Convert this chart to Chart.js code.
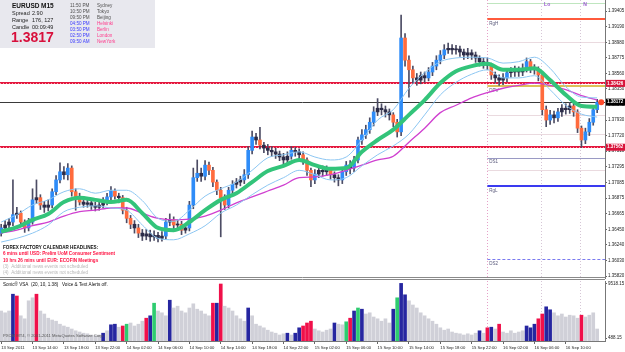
<!DOCTYPE html>
<html>
<head>
<meta charset="utf-8">
<script src="https://cdn.jsdelivr.net/npm/chart.js@4.4.0/dist/chart.umd.min.js"></script>
<style>
  html, body { margin: 0; padding: 0; background: #fff; }
  #wrap { position: relative; width: 625px; height: 352px; overflow: hidden; }
  #main { position: absolute; left: 0; top: 0; }
  #vol { position: absolute; left: 0; top: 280px; }
</style>
</head>
<body>
<div id="wrap">
  <canvas id="main" width="625" height="280"></canvas>
  <canvas id="vol" width="625" height="72"></canvas>
</div>
<script>
// EURUSD M15, taken at 30 min steps (13 Sep 10:00 -> 16 Sep 14:00)
var firstOpen = 1.3640;
var closes = [
  1.3647,1.3651,1.3655,1.3665,1.3667,1.3655,1.3647,1.3655,1.3685,1.3688,
  1.3678,1.3675,1.3678,1.3696,1.3712,1.3723,1.3719,1.3728,1.3696,1.3689,
  1.3682,1.3679,1.3681,1.3677,1.3675,1.3678,1.3682,1.3689,1.3697,1.3690,
  1.3688,1.3671,1.3660,1.3652,1.3647,1.3640,1.3636,1.3639,1.3635,1.3637,
  1.3633,1.3636,1.3655,1.3658,1.3651,1.3652,1.3644,1.3647,1.3678,1.3715,
  1.3721,1.3717,1.3732,1.3725,1.3709,1.3698,1.3688,1.3678,1.3698,1.3706,
  1.3709,1.3712,1.3719,1.3752,1.3770,1.3766,1.3759,1.3755,1.3752,1.3750,
  1.3747,1.3743,1.3739,1.3744,1.3752,1.3750,1.3746,1.3739,1.3725,1.3712,
  1.3720,1.3725,1.3723,1.3725,1.3719,1.3715,1.3712,1.3723,1.3732,1.3728,
  1.3739,1.3766,1.3773,1.3780,1.3790,1.3804,1.3809,1.3807,1.3804,1.3800,
  1.3790,1.3777,1.3904,1.3874,1.3861,1.3850,1.3847,1.3853,1.3850,1.3858,
  1.3866,1.3874,1.3881,1.3888,1.3890,1.3888,1.3889,1.3885,1.3881,1.3884,
  1.3881,1.3877,1.3872,1.3869,1.3867,1.3854,1.3850,1.3847,1.3850,1.3857,
  1.3858,1.3861,1.3858,1.3863,1.3872,1.3863,1.3861,1.3854,1.3807,1.3793,
  1.3800,1.3796,1.3804,1.3809,1.3807,1.3812,1.3804,1.3782,1.3766,1.3777,
  1.3790,1.3807,1.3817
];
var highs = [
  1.3652,1.3657,1.3660,1.3712,1.3675,1.3670,1.3658,1.3660,1.3700,1.3712,
  1.3692,1.3683,1.3685,1.3700,1.3718,1.3735,1.3730,1.3734,1.3731,1.3700,
  1.3694,1.3687,1.3686,1.3685,1.3682,1.3684,1.3688,1.3694,1.3703,1.3700,
  1.3694,1.3691,1.3675,1.3664,1.3657,1.3652,1.3645,1.3645,1.3644,1.3643,
  1.3641,1.3642,1.3660,1.3666,1.3662,1.3658,1.3656,1.3652,1.3683,1.3728,
  1.3739,1.3728,1.3738,1.3736,1.3729,1.3712,1.3702,1.3692,1.3702,1.3711,
  1.3714,1.3717,1.3726,1.3757,1.3778,1.3775,1.3783,1.3763,1.3760,1.3757,
  1.3755,1.3751,1.3748,1.3750,1.3757,1.3756,1.3754,1.3750,1.3742,1.3728,
  1.3726,1.3730,1.3731,1.3731,1.3729,1.3723,1.3719,1.3727,1.3737,1.3738,
  1.3744,1.3770,1.3780,1.3786,1.3796,1.3811,1.3822,1.3815,1.3812,1.3808,
  1.3803,1.3794,1.3935,1.3910,1.3880,1.3866,1.3856,1.3858,1.3858,1.3864,
  1.3871,1.3880,1.3887,1.3895,1.3897,1.3895,1.3894,1.3893,1.3889,1.3890,
  1.3888,1.3885,1.3880,1.3877,1.3877,1.3870,1.3858,1.3854,1.3856,1.3862,
  1.3864,1.3866,1.3865,1.3869,1.3877,1.3875,1.3868,1.3865,1.3857,1.3812,
  1.3806,1.3805,1.3809,1.3814,1.3815,1.3817,1.3816,1.3807,1.3785,1.3782,
  1.3795,1.3811,1.3821
];
var lows = [
  1.3636,1.3643,1.3646,1.3650,1.3660,1.3650,1.3641,1.3643,1.3652,1.3680,
  1.3672,1.3668,1.3670,1.3674,1.3692,1.3708,1.3713,1.3712,1.3690,1.3671,
  1.3678,1.3675,1.3675,1.3672,1.3670,1.3671,1.3674,1.3678,1.3685,1.3686,
  1.3681,1.3666,1.3654,1.3646,1.3640,1.3634,1.3630,1.3631,1.3629,1.3630,
  1.3628,1.3629,1.3632,1.3650,1.3646,1.3645,1.3638,1.3640,1.3643,1.3673,
  1.3710,1.3710,1.3712,1.3719,1.3703,1.3692,1.3635,1.3672,1.3674,1.3693,
  1.3701,1.3704,1.3707,1.3714,1.3747,1.3760,1.3754,1.3749,1.3746,1.3744,
  1.3741,1.3738,1.3733,1.3735,1.3740,1.3744,1.3740,1.3733,1.3718,1.3703,
  1.3707,1.3715,1.3717,1.3718,1.3713,1.3709,1.3704,1.3707,1.3718,1.3720,
  1.3723,1.3735,1.3760,1.3768,1.3775,1.3785,1.3799,1.3800,1.3797,1.3793,
  1.3784,1.3770,1.3772,1.3866,1.3824,1.3843,1.3840,1.3842,1.3844,1.3846,
  1.3853,1.3861,1.3869,1.3876,1.3883,1.3882,1.3882,1.3879,1.3875,1.3876,
  1.3875,1.3871,1.3866,1.3863,1.3861,1.3848,1.3843,1.3840,1.3841,1.3845,
  1.3851,1.3852,1.3852,1.3853,1.3858,1.3857,1.3855,1.3846,1.3800,1.3784,
  1.3787,1.3789,1.3791,1.3798,1.3801,1.3802,1.3798,1.3776,1.3756,1.3761,
  1.3772,1.3786,1.3803
];
var volumes = [
  5000,4700,5000,7800,7500,4200,3700,6700,7200,7800,
  5000,4500,3800,3500,3300,2800,2500,2300,2000,1700,
  1500,1300,1200,1000,900,1000,1300,1700,2700,2800,
  2300,2500,2800,3000,2500,2800,3300,3800,4200,6300,
  5000,4700,4200,6800,5500,5800,5000,4700,5500,6200,
  5300,5000,4500,4200,6300,6300,9500,5800,5500,5000,
  4200,3700,3300,5500,4200,2800,2500,2200,1800,1500,
  1300,1000,1200,1300,1000,1300,2200,2500,3000,3300,
  2000,1700,1500,1800,2000,3000,2800,2700,3200,3800,
  5000,5500,5300,4500,4700,4000,3700,3300,3700,3000,
  5300,7200,9600,7700,6700,6000,5500,4700,4200,3700,
  3300,2800,2200,1800,2000,1500,1300,1200,1000,1200,
  1000,1300,1700,1300,2200,2300,2000,2800,1500,1300,
  1700,1300,1500,1700,2500,2200,2800,3700,4500,5700,
  5200,4700,4200,4500,4000,4300,4200,3800,4300,4000,
  4300,4700,2000
];
// VSA bar class: 0 normal, 1 strength, 2 climax, 3 no supply
var vsaSignal = [
  0,0,0,1,2,0,0,0,0,2, 0,0,0,0,0,0,0,0,0,0, 0,0,0,0,0,0,1,0,1,1,
  0,2,3,0,0,0,0,2,1,3, 0,0,0,1,0,0,0,0,0,0, 0,0,0,0,2,1,2,0,0,0,
  0,0,0,1,0,0,0,0,0,0, 0,0,0,1,0,1,1,2,2,2, 0,0,0,0,0,1,0,0,3,2,
  1,3,1,0,0,0,0,0,0,0, 1,3,1,1,0,0,0,0,0,0, 0,0,0,0,0,0,0,0,0,0,
  0,0,1,0,2,1,0,2,0,0, 0,0,0,0,1,1,1,2,2,1, 1,0,0,0,0,0,0,0,2,0,
  0,0,0
];

// indicator lines, every 4th bar
var maIndex = [0,4,8,12,16,20,24,28,32,36,40,44,48,52,56,60,64,68,72,76,80,84,88,92,96,100,104,108,112,116,120,124,128,132,136,140,144,148,152];
var emaFast = [1.3642,1.3648,1.3658,1.3666,1.3682,1.3688,1.3685,1.3682,1.3685,1.3667,1.3647,1.3644,1.3655,1.3671,1.3685,1.3694,1.3709,1.3724,1.3731,1.3739,1.3732,1.3727,1.3728,1.3750,1.3766,1.3780,1.3800,1.3820,1.3843,1.3859,1.3866,1.3869,1.3861,1.3861,1.3863,1.3847,1.3827,1.3812,1.3811];
var bandUpper = [1.3655,1.3665,1.3678,1.3685,1.3696,1.3700,1.3694,1.3698,1.3698,1.3684,1.3660,1.3656,1.3671,1.3690,1.3700,1.3709,1.3725,1.3742,1.3746,1.3750,1.3743,1.3739,1.3743,1.3766,1.3793,1.3807,1.3836,1.3857,1.3872,1.3877,1.3878,1.3877,1.3870,1.3872,1.3878,1.3863,1.3838,1.3824,1.3823];
var bandLower = [1.3628,1.3633,1.3640,1.3651,1.3669,1.3675,1.3677,1.3674,1.3671,1.3651,1.3633,1.3631,1.3639,1.3650,1.3667,1.3678,1.3692,1.3705,1.3715,1.3725,1.3719,1.3712,1.3715,1.3731,1.3746,1.3758,1.3774,1.3800,1.3827,1.3844,1.3855,1.3861,1.3850,1.3850,1.3853,1.3834,1.3813,1.3801,1.3797];
var smaSlow = [1.3640,1.3644,1.3650,1.3655,1.3663,1.3669,1.3671,1.3674,1.3674,1.3667,1.3660,1.3658,1.3659,1.3663,1.3671,1.3681,1.3689,1.3697,1.3705,1.3715,1.3716,1.3719,1.3725,1.3732,1.3739,1.3744,1.3763,1.3782,1.3803,1.3813,1.3823,1.3830,1.3836,1.3840,1.3843,1.3840,1.3834,1.3826,1.3820];

var timeTicks = [0,8,16,24,32,40,48,56,64,72,80,88,96,104,112,120,128,136,144];
var timeLabels = ['13 Sep 2011','13 Sep 14:00','13 Sep 18:00','13 Sep 22:00','14 Sep 02:00','14 Sep 06:00','14 Sep 10:00','14 Sep 14:00','14 Sep 18:00','14 Sep 22:00','15 Sep 02:00','15 Sep 06:00','15 Sep 10:00','15 Sep 14:00','15 Sep 18:00','15 Sep 22:00','16 Sep 02:00','16 Sep 06:00','16 Sep 10:00'];
var priceTicks = [1.39405,1.39190,1.38980,1.38775,1.38560,1.38350,1.38140,1.37930,1.37720,1.37510,1.37295,1.37085,1.36875,1.36665,1.36450,1.36240,1.36030,1.35820];
var volTicks = [488.15, 9518.15];

// horizontal objects
var keyLevels = [1.38426, 1.38172, 1.37562];
var pivotNames = ['RgH', 'DPV', 'DS1', 'RgL', 'DS2'];
var pivotPrices = [1.3930, 1.3839, 1.3742, 1.3704, 1.3605];
var faintLevels = [1.3951, 1.3899, 1.3800, 1.3774, 1.3725];
var sessionIndex = [124, 137.7, 147.7];
var sessionNames = ['', 'Lo', 'N'];

var clockTimes = ['11:50 PM','10:50 PM','09:50 PM','04:50 PM','03:50 PM','02:50 PM','09:50 AM'];
var clockCities = ['Sydney','Tokyo','Beijing','Helsinki','Berlin','London','NewYork'];
var newsLines = [
  'FOREX FACTORY CALENDAR HEADLINES:',
  '6 mins until USD: Prelim UoM Consumer Sentiment',
  '10 hrs 26 mins until EUR: ECOFIN Meetings',
  '(3)  Additional news events not scheduled',
  '(4)  Additional news events not scheduled'
];

var FONT = '"Liberation Sans", Arial, sans-serif';
var xMin = -0.3, xMax = 154;

function candleColor(i) {
  var open = i === 0 ? firstOpen : closes[i - 1];
  var d = closes[i] - open;
  if (d >= 0.0006) return '#2e8cf8';
  if (d <= -0.0006) return '#ff6b3d';
  return '#2c2c48';
}

function pts(arr) {
  return maIndex.map(function (x, k) { return {x: x, y: arr[k]}; });
}

function hline(ctx, x1, x2, y, color, width, dash) {
  ctx.beginPath();
  ctx.setLineDash(dash || []);
  ctx.strokeStyle = color;
  ctx.lineWidth = width;
  var yy = (width % 2 === 1) ? Math.round(y) + 0.5 : Math.round(y);
  ctx.moveTo(x1, yy);
  ctx.lineTo(x2, yy);
  ctx.stroke();
}

function vline(ctx, x, y1, y2, color, dash) {
  ctx.beginPath();
  ctx.setLineDash(dash || []);
  ctx.strokeStyle = color;
  ctx.lineWidth = 1;
  var xx = Math.round(x) + 0.5;
  ctx.moveTo(xx, y1);
  ctx.lineTo(xx, y2);
  ctx.stroke();
}

function text(ctx, s, x, y, size, color, bold) {
  ctx.font = (bold ? 'bold ' : '') + size + 'px ' + FONT;
  ctx.fillStyle = color;
  ctx.textAlign = 'left';
  ctx.textBaseline = 'middle';
  ctx.fillText(s, x, y);
}

var pivotStyle = {
  RgH: {color: '#ff5a3c', width: 2},
  DPV: {color: '#dcc058', width: 2},
  DS1: {color: '#9a9ac4', width: 1},
  RgL: {color: '#3a3af0', width: 2},
  DS2: {color: '#7a7af0', width: 1, dash: [3, 2]}
};
var keyStyle = [
  {color: '#e3173e', box: '#d8143a'},
  {color: '#3a3a3a', box: '#000000'},
  {color: '#e3173e', box: '#d8143a'}
];

var mainDecor = {
  id: 'mainDecor',
  beforeDatasetsDraw: function (chart) {
    var ctx = chart.ctx, xs = chart.scales.x, ys = chart.scales.y, a = chart.chartArea;
    var x0 = xs.getPixelForValue(sessionIndex[0]);
    ctx.save();
    faintLevels.forEach(function (p, i) {
      hline(ctx, x0, a.right, ys.getPixelForValue(p), i === 0 ? '#bfe6bf' : '#eadadf', 1);
    });
    sessionIndex.forEach(function (v, i) {
      var x = xs.getPixelForValue(v);
      vline(ctx, x, a.top, a.bottom, i === 0 ? '#e6a0c8' : '#d6c6d6', [1, 2]);
      if (sessionNames[i]) text(ctx, sessionNames[i], x + 3, 5, 5, '#9a5ad0', true);
    });
    pivotNames.forEach(function (n, i) {
      var st = pivotStyle[n], y = ys.getPixelForValue(pivotPrices[i]);
      hline(ctx, x0, a.right, y, st.color, st.width, st.dash);
      text(ctx, n, x0 + 2, y + 4.5, 4.5, '#58587a', false);
    });
    keyLevels.forEach(function (p, i) {
      var y = ys.getPixelForValue(p);
      if (i === 1) {
        hline(ctx, a.left, a.right, y, keyStyle[i].color, 1);
      } else {
        hline(ctx, a.left, a.right, y, keyStyle[i].color, 2);
        hline(ctx, a.left, a.right, y, '#ff9aa8', 1, [1, 2]);
      }
    });
    ctx.restore();
  },
  afterDraw: function (chart) {
    var ctx = chart.ctx, xs = chart.scales.x, ys = chart.scales.y, a = chart.chartArea;
    ctx.save();
    ctx.setLineDash([]);
    // panel separator
    hline(ctx, 0, a.right, 277, '#8a8a8a', 1);
    hline(ctx, 0, a.right, 279, '#8a8a8a', 1);
    // price boxes on the axis
    keyLevels.forEach(function (p, i) {
      var y = ys.getPixelForValue(p);
      ctx.fillStyle = keyStyle[i].box;
      ctx.fillRect(a.right + 1, y - 3.5, 20, 7);
      text(ctx, p.toFixed(5), a.right + 2, y, 4.5, '#ffffff', true);
    });
    // current price marker
    ctx.beginPath();
    ctx.fillStyle = '#ff4a2a';
    ctx.arc(xs.getPixelForValue(closes.length - 1) + 4, ys.getPixelForValue(keyLevels[1]), 3, 0, Math.PI * 2);
    ctx.fill();
    // info panel
    ctx.fillStyle = '#e8e8ee';
    ctx.fillRect(0, 0, 155, 48);
    text(ctx, 'EURUSD', 12, 6, 6.5, '#111', true);
    text(ctx, 'M15', 41, 6, 6.5, '#111', true);
    text(ctx, 'Spread', 12, 13.5, 5.5, '#222');
    text(ctx, '2.90', 32, 13.5, 5.5, '#222');
    text(ctx, 'Range', 12, 20.5, 5.5, '#222');
    text(ctx, '176, 127', 32, 20.5, 5.5, '#222');
    text(ctx, 'Candle', 12, 27, 5.5, '#222');
    text(ctx, '00:09:49', 32, 27, 5.5, '#222');
    text(ctx, closes[closes.length - 1].toFixed(4), 11, 38.5, 14, '#d8103c', true);
    clockTimes.forEach(function (t, k) {
      var y = 6 + k * 6;
      text(ctx, t, 70, y, 4.6, k < 3 ? '#505050' : '#3a3aff');
      text(ctx, clockCities[k], 97, y, 4.6, k < 3 ? '#505050' : '#ff3c8c');
    });
    // news headlines
    newsLines.forEach(function (s, k) {
      var color = k === 0 ? '#111' : (k < 3 ? '#ff1040' : '#b8b8b8');
      text(ctx, s, 3, 248 + k * 6.2, 4.6, color, k < 3);
    });
    ctx.restore();
  }
};

var volDecor = {
  id: 'volDecor',
  beforeDatasetsDraw: function (chart) {
    var ctx = chart.ctx, xs = chart.scales.x, a = chart.chartArea;
    ctx.save();
    sessionIndex.forEach(function (v, i) {
      vline(ctx, xs.getPixelForValue(v), a.top, a.bottom, i === 0 ? '#e6a0c8' : '#d6c6d6', [1, 2]);
    });
    ctx.restore();
  },
  afterDraw: function (chart) {
    var ctx = chart.ctx;
    ctx.save();
    text(ctx, 'Sonic\u00ae VSA  (20, 10, 1.38)   Voice & Text Alerts off.', 3, 4.5, 4.6, '#111');
    text(ctx, 'PXCM MT4, \u00a9 2001-2011 MetaQuotes Software Corp.', 3, 55.5, 4.2, '#555');
    ctx.restore();
  }
};

var candleBodies = closes.map(function (c, i) {
  return {x: i, y: [i === 0 ? firstOpen : closes[i - 1], c]};
});
var candleWicks = closes.map(function (c, i) {
  return {x: i, y: [lows[i], highs[i]]};
});

new Chart(document.getElementById('main'), {
  type: 'bar',
  data: {
    datasets: [
      {type: 'line', data: pts(emaFast), borderColor: '#33c47a', borderWidth: 4, pointRadius: 0, cubicInterpolationMode: 'monotone', order: 0},
      {type: 'line', data: pts(bandUpper), borderColor: '#8cc6f2', borderWidth: 1, pointRadius: 0, cubicInterpolationMode: 'monotone', order: 0},
      {type: 'line', data: pts(bandLower), borderColor: '#8cc6f2', borderWidth: 1, pointRadius: 0, cubicInterpolationMode: 'monotone', order: 0},
      {type: 'line', data: pts(smaSlow), borderColor: '#d040d0', borderWidth: 1.3, pointRadius: 0, cubicInterpolationMode: 'monotone', order: 0},
      {data: candleBodies, backgroundColor: function (c) { return candleColor(c.dataIndex); }, barThickness: 3, minBarLength: 1, grouped: false, order: 1},
      {data: candleWicks, backgroundColor: '#4c4c64', barThickness: 1, grouped: false, order: 2}
    ]
  },
  options: {
    responsive: false,
    animation: false,
    events: [],
    layout: {padding: {top: 0, left: 0, right: 0, bottom: 2}},
    plugins: {legend: {display: false}, tooltip: {enabled: false}},
    scales: {
      x: {type: 'linear', min: xMin, max: xMax, offset: false, display: false, grid: {offset: false}},
      y: {
        position: 'right', min: 1.35793, max: 1.39554, beginAtZero: false,
        afterBuildTicks: function (s) { s.ticks = priceTicks.map(function (v) { return {value: v}; }); },
        afterFit: function (s) { s.width = 20; s.paddingTop = 0; s.paddingBottom = 0; },
        ticks: {autoSkip: false, padding: 1, color: '#222', font: {family: FONT, size: 4.5},
                callback: function (v) { return Number(v).toFixed(5); }},
        grid: {drawOnChartArea: false, tickLength: 2, color: '#666'},
        border: {display: true, color: '#777'}
      }
    }
  },
  plugins: [mainDecor]
});

var vsaColors = ['#d0d0d8', '#2626a0', '#f0104a', '#2ecc70'];

new Chart(document.getElementById('vol'), {
  type: 'bar',
  data: {
    datasets: [{
      data: volumes.map(function (v, i) { return {x: i, y: v}; }),
      backgroundColor: function (c) { return vsaColors[vsaSignal[c.dataIndex]]; },
      barThickness: 3
    }]
  },
  options: {
    responsive: false,
    animation: false,
    events: [],
    layout: {padding: {top: 1, left: 0, right: 0, bottom: 0}},
    plugins: {legend: {display: false}, tooltip: {enabled: false}},
    scales: {
      x: {
        type: 'linear', min: xMin, max: xMax, offset: false, position: 'bottom',
        afterBuildTicks: function (s) { s.ticks = timeTicks.map(function (v) { return {value: v}; }); },
        afterFit: function (s) { s.height = 11; s.paddingLeft = 0; s.paddingRight = 0; },
        ticks: {autoSkip: false, maxRotation: 0, minRotation: 0, align: 'start', padding: 1, color: '#222',
                font: {family: FONT, size: 4.2},
                callback: function (v, i) { return timeLabels[i]; }},
        grid: {drawOnChartArea: false, offset: false, tickLength: 3, color: '#666'},
        border: {display: true, color: '#777'}
      },
      y: {
        position: 'right', min: 0, max: 10000,
        afterBuildTicks: function (s) { s.ticks = volTicks.map(function (v) { return {value: v}; }); },
        afterFit: function (s) { s.width = 20; s.paddingTop = 0; s.paddingBottom = 0; },
        ticks: {autoSkip: false, padding: 1, color: '#222', font: {family: FONT, size: 4.5},
                callback: function (v) { return Number(v).toFixed(2); }},
        grid: {drawOnChartArea: false, tickLength: 2, color: '#666'},
        border: {display: true, color: '#777'}
      }
    }
  },
  plugins: [volDecor]
});
</script>
</body>
</html>
